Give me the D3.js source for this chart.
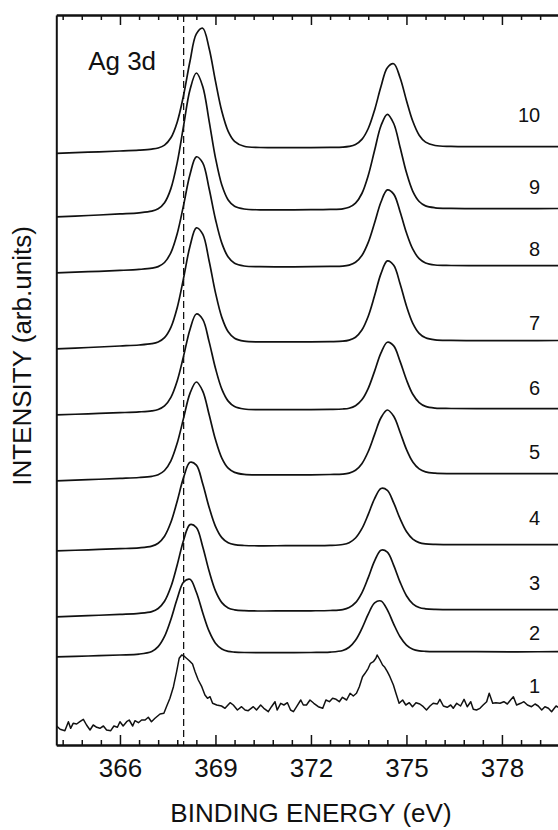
<!DOCTYPE html>
<html>
<head>
<meta charset="utf-8">
<script src="https://cdn.jsdelivr.net/npm/d3@7"></script>
<style>
  html, body { margin: 0; padding: 0; background: #fff; }
  svg { display: block; }
  text { font-family: "Liberation Sans", Arial, Helvetica, sans-serif; fill: #111; }
</style>
</head>
<body>
<svg id="chart" width="558" height="830"></svg>
<script>
// Binding-energy grid (eV) shared by the smoothed spectra 2-10
const bindingEnergy = [364.0, 365.0,
  366.0, 366.6, 367.0, 367.2, 367.4, 367.6, 367.8, 368.0, 368.2, 368.4, 368.6, 368.8, 369.0, 369.2, 369.4, 369.6, 369.9, 370.4,
  371.2,
  372.0, 372.6, 373.0, 373.2, 373.4, 373.6, 373.8, 374.0, 374.2, 374.4, 374.6, 374.8, 375.0, 375.2, 375.4, 375.6, 375.9, 376.4,
  377.2, 378.5, 380.0];

// Stacked intensities (arb. units) for each spectrum on that grid
const spectrum10 = [59.17, 59.28, 59.40, 59.49, 59.59, 59.70, 59.99, 60.72, 62.31, 65.00, 68.37, 71.11, 71.68, 69.68, 66.39, 63.37, 61.37, 60.37, 59.87, 59.75, 59.74, 59.74, 59.76, 59.79, 59.86, 60.05, 60.56, 61.65, 63.51, 65.84, 67.73, 68.12, 66.73, 64.46, 62.37, 60.98, 60.29, 59.95, 59.86, 59.84, 59.83, 59.84];
const spectrum9 = [52.82, 52.95, 53.11, 53.22, 53.38, 53.62, 54.23, 55.64, 58.27, 61.94, 65.53, 67.20, 65.86, 62.42, 58.72, 56.00, 54.51, 53.88, 53.60, 53.52, 53.52, 53.53, 53.56, 53.62, 53.77, 54.18, 55.15, 56.95, 59.47, 61.93, 63.07, 62.15, 59.78, 57.24, 55.37, 54.35, 53.91, 53.72, 53.66, 53.64, 53.64, 53.65];
const spectrum8 = [47.22, 47.33, 47.46, 47.56, 47.68, 47.84, 48.25, 49.24, 51.15, 54.01, 57.05, 58.82, 58.21, 55.65, 52.58, 50.19, 48.80, 48.18, 47.90, 47.83, 47.82, 47.83, 47.86, 47.89, 47.99, 48.27, 48.95, 50.26, 52.22, 54.30, 55.51, 55.09, 53.33, 51.22, 49.58, 48.63, 48.20, 48.00, 47.95, 47.94, 47.94, 47.94];
const spectrum7 = [39.62, 39.75, 39.90, 40.00, 40.13, 40.30, 40.73, 41.76, 43.75, 46.71, 49.88, 51.72, 51.08, 48.43, 45.24, 42.76, 41.32, 40.68, 40.38, 40.31, 40.31, 40.32, 40.34, 40.38, 40.49, 40.78, 41.50, 42.88, 44.94, 47.14, 48.41, 47.97, 46.12, 43.90, 42.17, 41.17, 40.72, 40.51, 40.46, 40.44, 40.44, 40.45];
const spectrum6 = [33.01, 33.12, 33.23, 33.31, 33.41, 33.55, 33.91, 34.77, 36.43, 38.91, 41.56, 43.10, 42.56, 40.34, 37.67, 35.59, 34.39, 33.85, 33.60, 33.54, 33.53, 33.54, 33.56, 33.60, 33.68, 33.93, 34.52, 35.67, 37.39, 39.21, 40.28, 39.91, 38.36, 36.52, 35.07, 34.24, 33.86, 33.69, 33.65, 33.63, 33.63, 33.64];
const spectrum5 = [26.41, 26.53, 26.66, 26.75, 26.87, 27.03, 27.45, 28.42, 30.21, 32.71, 35.16, 36.30, 35.39, 33.05, 30.54, 28.69, 27.68, 27.26, 27.06, 27.01, 27.01, 27.02, 27.05, 27.09, 27.19, 27.47, 28.13, 29.35, 31.06, 32.72, 33.50, 32.87, 31.28, 29.56, 28.30, 27.61, 27.31, 27.18, 27.14, 27.13, 27.13, 27.14];
const spectrum4 = [19.41, 19.52, 19.63, 19.72, 19.89, 20.18, 20.88, 22.27, 24.41, 26.76, 28.27, 27.99, 26.13, 23.78, 21.87, 20.74, 20.22, 20.03, 19.95, 19.92, 19.93, 19.94, 19.96, 20.05, 20.23, 20.70, 21.63, 23.06, 24.64, 25.65, 25.46, 24.21, 22.63, 21.35, 20.59, 20.24, 20.11, 20.06, 20.04, 20.03, 20.03, 20.04];
const spectrum3 = [12.81, 12.93, 13.06, 13.16, 13.34, 13.65, 14.37, 15.82, 18.03, 20.48, 22.04, 21.75, 19.83, 17.39, 15.41, 14.24, 13.71, 13.52, 13.43, 13.40, 13.41, 13.42, 13.45, 13.54, 13.74, 14.23, 15.22, 16.74, 18.41, 19.48, 19.28, 17.96, 16.29, 14.93, 14.12, 13.75, 13.62, 13.56, 13.54, 13.53, 13.53, 13.54];
const spectrum2 = [8.81, 8.90, 9.00, 9.09, 9.36, 9.84, 10.86, 12.56, 14.65, 16.30, 16.57, 15.27, 13.23, 11.38, 10.18, 9.59, 9.36, 9.29, 9.25, 9.23, 9.24, 9.25, 9.29, 9.45, 9.77, 10.47, 11.64, 13.08, 14.22, 14.40, 13.51, 12.09, 10.82, 9.99, 9.58, 9.42, 9.37, 9.34, 9.33, 9.33, 9.32, 9.33];

// Raw (unsmoothed) spectrum 1
const spectrum1Energy = [364.01, 364.12, 364.27, 364.38, 364.45, 364.53, 364.64, 364.74, 364.85, 364.95, 365.06, 365.16, 365.27, 365.37, 365.48, 365.58, 365.71, 365.81, 365.92, 366.00,
  366.10, 366.21, 366.29, 366.40, 366.47, 366.58, 366.68, 366.79, 366.89, 366.99, 367.10, 367.26, 367.38, 367.47, 367.57, 367.68, 367.78, 367.86, 367.94, 368.01,
  368.09, 368.18, 368.28, 368.36, 368.46, 368.57, 368.67, 368.75, 368.83, 368.91, 369.04, 369.19, 369.30, 369.46, 369.56, 369.69, 369.82, 369.93, 370.03, 370.19,
  370.29, 370.42, 370.52, 370.66, 370.76, 370.87, 370.94, 371.05, 371.15, 371.26, 371.36, 371.45, 371.55, 371.68, 371.76, 371.86, 371.97, 372.09, 372.23, 372.37,
  372.47, 372.58, 372.68, 372.79, 372.89, 372.99, 373.12, 373.23, 373.33, 373.43, 373.52, 373.62, 373.70, 373.80, 373.87, 373.96, 374.04, 374.08, 374.17, 374.25,
  374.32, 374.40, 374.48, 374.59, 374.67, 374.77, 374.88, 374.98, 375.09, 375.19, 375.30, 375.42, 375.53, 375.63, 375.74, 375.84, 375.97, 376.05, 376.16, 376.28,
  376.39, 376.47, 376.58, 376.70, 376.81, 376.91, 377.02, 377.10, 377.20, 377.31, 377.41, 377.52, 377.60, 377.71, 377.81, 377.94, 378.06, 378.17, 378.27, 378.36,
  378.46, 378.59, 378.69, 378.80, 378.93, 379.04, 379.14, 379.25, 379.35, 379.46, 379.56, 379.70, 379.82, 379.93];
const spectrum1Counts = [1.90, 1.57, 1.43, 2.33, 1.67, 2.17, 2.10, 2.33, 2.57, 2.00, 1.50, 2.00, 1.77, 1.67, 1.90, 1.50, 1.43, 1.90, 1.77, 2.33,
  1.90, 2.33, 2.50, 1.90, 2.43, 2.23, 2.50, 2.50, 2.77, 2.33, 2.67, 3.10, 3.17, 3.90, 4.67, 5.83, 7.33, 8.67, 9.00, 8.90,
  8.67, 8.43, 8.10, 7.33, 6.50, 5.83, 5.00, 4.67, 4.83, 4.17, 4.00, 3.90, 3.67, 4.23, 4.00, 3.50, 3.83, 3.50, 3.43, 3.83,
  3.50, 4.00, 3.67, 3.33, 3.83, 4.33, 3.50, 4.17, 4.00, 4.23, 3.50, 3.33, 3.83, 4.50, 4.00, 4.00, 4.50, 4.17, 3.83, 3.67,
  4.50, 4.33, 4.67, 4.57, 4.33, 4.77, 4.50, 5.17, 4.90, 5.17, 5.83, 6.83, 7.17, 7.67, 8.17, 8.33, 8.67, 9.00, 8.50, 8.00,
  7.77, 7.33, 6.83, 6.00, 5.17, 4.17, 4.50, 4.00, 4.23, 3.83, 4.23, 4.10, 3.83, 3.50, 3.90, 4.17, 4.10, 4.57, 3.90, 3.77,
  4.00, 3.67, 4.17, 3.90, 4.57, 3.83, 4.33, 3.57, 3.50, 3.67, 4.00, 4.33, 5.17, 4.17, 4.23, 4.17, 4.33, 4.10, 4.50, 4.83,
  4.00, 4.17, 4.33, 4.00, 3.83, 4.10, 3.90, 3.50, 3.83, 3.67, 3.33, 3.90, 3.67, 3.80];

const smoothSpectra = [spectrum2, spectrum3, spectrum4, spectrum5, spectrum6, spectrum7, spectrum8, spectrum9, spectrum10];

// Sample numbers and the intensity level at which each number is written
const sampleNames = ["1", "2", "3", "4", "5", "6", "7", "8", "9", "10"];
const labelLevel = [5.9, 11.2, 16.2, 22.7, 29.3, 35.7, 42.2, 49.6, 55.8, 63.0];

const majorTicks = [366, 369, 372, 375, 378];
const referenceEnergy = 368.0;   // metallic Ag 3d5/2 reference
const coreLevel = "Ag 3d";

// ---- layout ----
const svg = d3.select("#chart");
const plotLeft = 56.3, plotRight = 565.6, plotTop = 15, plotBottom = 745;

const x = d3.scaleLinear().domain([364, 380]).range([plotLeft, plotRight]);
const y = d3.scaleLinear().domain([0, 73]).range([plotBottom, plotTop]);

svg.append("defs").append("clipPath").attr("id", "plotClip")
  .append("rect")
  .attr("x", plotLeft).attr("y", plotTop)
  .attr("width", plotRight - plotLeft).attr("height", plotBottom - plotTop);

const plot = svg.append("g").attr("clip-path", "url(#plotClip)");

// dashed reference line
plot.append("line")
  .attr("x1", x(referenceEnergy)).attr("x2", x(referenceEnergy))
  .attr("y1", plotTop).attr("y2", plotBottom)
  .attr("stroke", "#111").attr("stroke-width", 1.3)
  .attr("stroke-dasharray", "7,4");

// smoothed spectra
const smoothLine = d3.line()
  .x(d => x(d[0])).y(d => y(d[1]))
  .curve(d3.curveCatmullRom.alpha(0.5));

plot.selectAll("path.smooth")
  .data(smoothSpectra)
  .join("path")
  .attr("class", "smooth")
  .attr("d", s => smoothLine(d3.zip(bindingEnergy, s)))
  .attr("fill", "none").attr("stroke", "#111").attr("stroke-width", 1.7)
  .attr("stroke-linejoin", "round");

// raw spectrum
const rawLine = d3.line().x(d => x(d[0])).y(d => y(d[1]));
plot.append("path")
  .attr("d", rawLine(d3.zip(spectrum1Energy, spectrum1Counts)))
  .attr("fill", "none").attr("stroke", "#111").attr("stroke-width", 1.5)
  .attr("stroke-linejoin", "round");

// sample numbers
svg.append("g").selectAll("text")
  .data(sampleNames)
  .join("text")
  .attr("x", x(379.2))
  .attr("y", (d, i) => y(labelLevel[i]))
  .attr("dy", "0.36em")
  .attr("text-anchor", "end")
  .attr("font-size", 20)
  .text(d => d);

// core-level label
svg.append("text")
  .attr("x", x(365.0)).attr("y", y(67.5))
  .attr("font-size", 26)
  .text(coreLevel);

// ---- axes ----
const minorTicks = d3.range(364.2, 380, 0.6).filter(v => majorTicks.every(m => Math.abs(m - v) > 0.01));

function styleAxis(g) {
  g.select(".domain").attr("stroke", "#111").attr("stroke-width", 2);
  g.selectAll(".tick line").attr("stroke", "#111").attr("stroke-width", 1.5);
}

// bottom: major with labels, minor without
const bottomMajor = svg.append("g").attr("transform", `translate(0,${plotBottom})`)
  .call(d3.axisBottom(x).tickValues(majorTicks).tickFormat(d3.format("d"))
    .tickSizeInner(-10).tickSizeOuter(0).tickPadding(14));
styleAxis(bottomMajor);
bottomMajor.selectAll(".tick text")
  .attr("font-size", 26).attr("font-family", "'Liberation Sans', Arial, sans-serif").attr("fill", "#111");

const bottomMinor = svg.append("g").attr("transform", `translate(0,${plotBottom})`)
  .call(d3.axisBottom(x).tickValues(minorTicks).tickFormat("").tickSizeInner(-5).tickSizeOuter(0));
styleAxis(bottomMinor);

// top: ticks pointing inward
const topMajor = svg.append("g").attr("transform", `translate(0,${plotTop})`)
  .call(d3.axisTop(x).tickValues(majorTicks).tickFormat("").tickSizeInner(-10).tickSizeOuter(0));
styleAxis(topMajor);
const topMinor = svg.append("g").attr("transform", `translate(0,${plotTop})`)
  .call(d3.axisTop(x).tickValues(minorTicks).tickFormat("").tickSizeInner(-5).tickSizeOuter(0));
styleAxis(topMinor);

// left and right frame lines (no ticks)
const leftAxis = svg.append("g").attr("transform", `translate(${plotLeft},0)`)
  .call(d3.axisLeft(y).tickValues([]).tickSizeOuter(0));
styleAxis(leftAxis);
const rightAxis = svg.append("g").attr("transform", `translate(${plotRight},0)`)
  .call(d3.axisRight(y).tickValues([]).tickSizeOuter(0));
styleAxis(rightAxis);

// axis titles
svg.append("text")
  .attr("x", (plotLeft + plotRight) / 2).attr("y", 822)
  .attr("text-anchor", "middle").attr("font-size", 26)
  .text("BINDING ENERGY (eV)");

svg.append("text")
  .attr("transform", "translate(31,356) rotate(-90)")
  .attr("text-anchor", "middle").attr("font-size", 26)
  .text("INTENSITY (arb.units)");
</script>
</body>
</html>
